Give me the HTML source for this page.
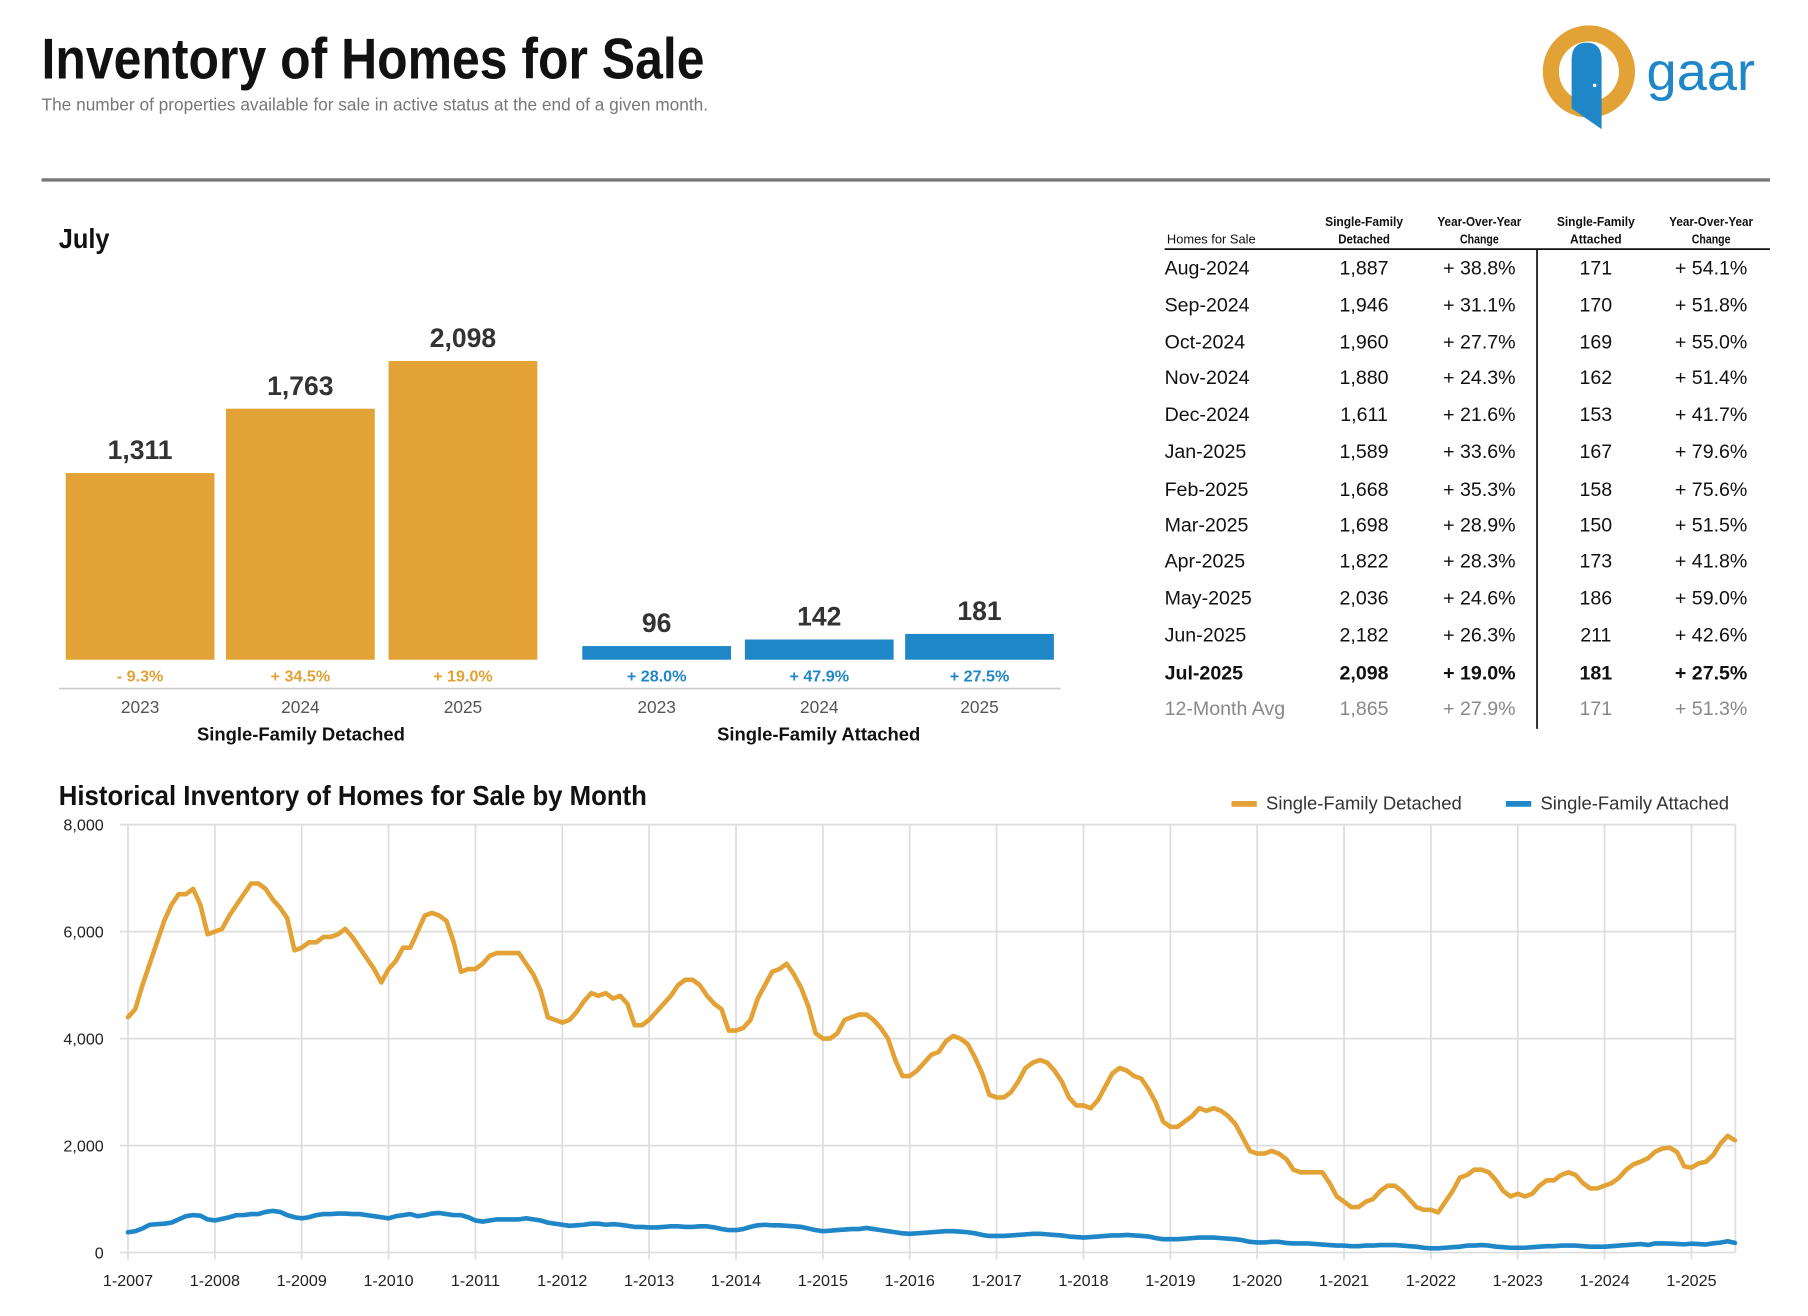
<!DOCTYPE html>
<html><head><meta charset="utf-8"><style>
html,body{margin:0;padding:0;background:#fff;}
svg{display:block;}
text{font-family:"Liberation Sans",sans-serif;}
.n{font-family:"Liberation Sans Narrow","Liberation Sans",sans-serif;}
</style></head><body>
<svg id="root" width="1808" height="1316" viewBox="0 0 1568 1141" preserveAspectRatio="none" xmlns="http://www.w3.org/2000/svg">
<text x="36" y="68" font-size="50" font-weight="bold" fill="#111" textLength="575" lengthAdjust="spacingAndGlyphs">Inventory of Homes for Sale</text>
<text x="36" y="96" font-size="15" fill="#777">The number of properties available for sale in active status at the end of a given month.</text>
<g>
<circle cx="1378" cy="62" r="33" fill="none" stroke="#E2A235" stroke-width="14"/>
<path d="M1363 52 Q1363 37 1376 37 Q1389 37 1389 52 L1389 112 L1363 94 Z" fill="#1F87C8"/>
<circle cx="1383" cy="74" r="1.5" fill="#fff"/>
<text x="1428" y="78" font-size="47" fill="#1F87C8">gaar</text>
</g>
<line x1="36" y1="156" x2="1535" y2="156" stroke="#777" stroke-width="3"/>
<text x="51" y="215" font-size="24" font-weight="bold" fill="#111" textLength="44" lengthAdjust="spacingAndGlyphs">July</text>
<g id="bars"></g>
<line x1="51" y1="597" x2="920" y2="597" stroke="#ccc" stroke-width="1.5"/>
<text x="261" y="642" font-size="16" font-weight="bold" fill="#111" text-anchor="middle">Single-Family Detached</text>
<text x="710" y="642" font-size="16" font-weight="bold" fill="#111" text-anchor="middle">Single-Family Attached</text>
<g id="table"></g>
<text x="51" y="698" font-size="24" font-weight="bold" fill="#111" textLength="510" lengthAdjust="spacingAndGlyphs">Historical Inventory of Homes for Sale by Month</text>
<g>
<line x1="1068" y1="697" x2="1090" y2="697" stroke="#E2A235" stroke-width="5"/>
<text x="1098" y="702" font-size="16" fill="#333">Single-Family Detached</text>
<line x1="1306" y1="697" x2="1328" y2="697" stroke="#1F87C8" stroke-width="5"/>
<text x="1336" y="702" font-size="16" fill="#333">Single-Family Attached</text>
</g>
<g id="line"></g>
</svg>
<script>
const barYears=['2023','2024','2025'];
const detachedJuly=[1311,1763,2098];
const attachedJuly=[96,142,181];
const detachedPct=['- 9.3%','+ 34.5%','+ 19.0%'];
const attachedPct=['+ 28.0%','+ 47.9%','+ 27.5%'];

const tableMonths=['Aug-2024','Sep-2024','Oct-2024','Nov-2024','Dec-2024','Jan-2025','Feb-2025','Mar-2025','Apr-2025','May-2025','Jun-2025','Jul-2025','12-Month Avg'];
const tableDet=['1,887','1,946','1,960','1,880','1,611','1,589','1,668','1,698','1,822','2,036','2,182','2,098','1,865'];
const tableDetChg=['+ 38.8%','+ 31.1%','+ 27.7%','+ 24.3%','+ 21.6%','+ 33.6%','+ 35.3%','+ 28.9%','+ 28.3%','+ 24.6%','+ 26.3%','+ 19.0%','+ 27.9%'];
const tableAtt=['171','170','169','162','153','167','158','150','173','186','211','181','171'];
const tableAttChg=['+ 54.1%','+ 51.8%','+ 55.0%','+ 51.4%','+ 41.7%','+ 79.6%','+ 75.6%','+ 51.5%','+ 41.8%','+ 59.0%','+ 42.6%','+ 27.5%','+ 51.3%'];

const yTicks=[0,2000,4000,6000,8000];
const yTickLabels=['0','2,000','4,000','6,000','8,000'];
const xYearLabels=['1-2007','1-2008','1-2009','1-2010','1-2011','1-2012','1-2013','1-2014','1-2015','1-2016','1-2017','1-2018','1-2019','1-2020','1-2021','1-2022','1-2023','1-2024','1-2025'];
const detachedMonthly=[
4400,4550,5000,5400,5800,6200,6500,6700,6700,6800,6500,5950,
6000,6050,6300,6500,6700,6900,6900,6800,6600,6450,6250,5650,
5700,5800,5800,5900,5900,5950,6050,5900,5700,5500,5300,5050,
5300,5450,5700,5700,6000,6300,6350,6300,6200,5800,5250,5300,
5300,5400,5550,5600,5600,5600,5600,5400,5200,4900,4400,4350,
4300,4350,4500,4700,4850,4800,4850,4750,4800,4650,4250,4250,
4350,4500,4650,4800,5000,5100,5100,5000,4800,4650,4550,4150,
4150,4200,4350,4750,5000,5250,5300,5400,5200,4950,4600,4100,
4000,4000,4100,4350,4400,4450,4450,4350,4200,4000,3600,3300,
3300,3400,3550,3700,3750,3950,4050,4000,3900,3650,3350,2950,
2900,2900,3000,3200,3450,3550,3600,3550,3400,3200,2900,2750,
2750,2700,2850,3100,3350,3450,3400,3300,3250,3050,2800,2450,
2350,2350,2450,2550,2700,2650,2700,2650,2550,2400,2150,1900,
1850,1850,1900,1850,1750,1550,1500,1500,1500,1500,1300,1050,
950,850,850,950,1000,1150,1250,1250,1150,1000,850,800,
800,750,950,1150,1400,1450,1550,1550,1500,1350,1150,1050,
1100,1050,1100,1250,1350,1350,1450,1500,1450,1300,1200,1200,
1250,1300,1400,1550,1650,1700,1763,1887,1946,1960,1880,1611,
1589,1668,1698,1822,2036,2182,2098];
const attachedMonthly=[
380,400,450,520,530,540,560,620,680,700,690,620,
600,630,660,700,700,720,720,760,780,760,700,660,
640,660,700,720,720,730,730,720,720,700,680,660,
640,680,700,720,680,700,730,740,720,700,700,660,
600,580,600,620,620,620,620,640,620,600,560,540,
520,500,510,520,540,540,520,530,520,500,480,480,
470,470,480,490,490,480,480,490,490,470,440,420,
420,440,480,510,520,510,510,500,490,480,450,420,
400,410,420,430,440,440,460,440,420,400,380,360,
350,360,370,380,390,400,400,390,380,360,330,310,
310,310,320,330,340,350,350,340,330,320,300,290,
280,290,300,310,320,320,330,320,310,300,270,250,
250,250,260,270,280,280,280,270,260,250,230,200,
190,190,200,200,180,170,170,170,160,150,140,130,
130,120,120,130,130,140,140,140,130,120,110,90,
80,80,90,100,110,130,130,140,130,110,100,90,
90,90,100,110,120,120,130,130,130,120,110,110,
110,120,130,140,150,160,142,171,170,169,162,153,
167,158,150,173,186,211,181];

const NS='http://www.w3.org/2000/svg';
function mk(tag,attrs,parent,txt){const e=document.createElementNS(NS,tag);for(const k in attrs)e.setAttribute(k,attrs[k]);if(txt!==undefined)e.textContent=txt;parent.appendChild(e);return e;}
const ORANGE='#E2A235',BLUE='#1F87C8';

const bars=document.getElementById('bars');
const baseY=572,barScale=259/2098;
function barY(v){return baseY-v*barScale;}
function drawGroup(vals,pcts,xs,color,key){
 vals.forEach((v,i)=>{
  const r=mk('rect',{x:xs[i],y:barY(v),width:129,height:v*barScale,fill:color},bars);
  
  
  const t=mk('text',{x:xs[i]+64.5,y:barY(v)-12,'font-size':23,'font-weight':'bold',fill:'#333','text-anchor':'middle'},bars,v.toLocaleString('en-US'));
  
  
  const p=mk('text',{x:xs[i]+64.5,y:591,'font-size':14,'font-weight':'bold',fill:color,'text-anchor':'middle'},bars,pcts[i]);
  
  
  const yl=mk('text',{x:xs[i]+64.5,y:618,'font-size':15,fill:'#555','text-anchor':'middle'},bars,barYears[i]);
  
  
 });
}
drawGroup(detachedJuly,detachedPct,[57,196,337],ORANGE,'detached');
drawGroup(attachedJuly,attachedPct,[505,646,785],BLUE,'attached');

const tb=document.getElementById('table');
const cols=[1183,1283,1384,1484];
const heads=[['Single-Family','Detached'],['Year-Over-Year','Change'],['Single-Family','Attached'],['Year-Over-Year','Change']];
let h=mk('text',{x:1012,y:211,'font-size':11,fill:'#111',textLength:77,lengthAdjust:'spacingAndGlyphs'},tb,'Homes for Sale');


heads.forEach((hh,i)=>{
 const t=mk('text',{x:cols[i],y:196,'font-size':11,'font-weight':'bold',fill:'#111','text-anchor':'middle',textLength:hh[0].length*5.2,lengthAdjust:'spacingAndGlyphs'},tb,hh[0]);
 
 
 mk('text',{x:cols[i],y:211,'font-size':11,'font-weight':'bold',fill:'#111','text-anchor':'middle',textLength:hh[1].length*5.6,lengthAdjust:'spacingAndGlyphs'},tb,hh[1]);
});
mk('line',{x1:1010,y1:216,x2:1535,y2:216,stroke:'#111','stroke-width':1.5},tb);
mk('line',{x1:1333,y1:216,x2:1333,y2:632,stroke:'#111','stroke-width':1.5},tb);
const rowYs=[238,270,302,333,365,397,430,461,492,524,556,589,620];
tableMonths.forEach((m,i)=>{
 const bold=i===11,avg=i===12;
 const fill=avg?'#888':'#111',fw=bold?'bold':'normal';
 const row=mk('g',{},tb);
 
 
 mk('text',{x:1010,y:rowYs[i],'font-size':17,fill:fill,'font-weight':fw},row,m);
 [tableDet[i],tableDetChg[i],tableAtt[i],tableAttChg[i]].forEach((v,j)=>{
  mk('text',{x:cols[j],y:rowYs[i],'font-size':17,fill:fill,'font-weight':fw,'text-anchor':'middle'},row,v);
 });
});

const lg=document.getElementById('line');
const X0=111,perYear=75.33,Y0=1086,Y8=715,RIGHT=1505;
function xm(i){return X0+i*perYear/12;}
function yv(v){return Y0-(v/8000)*(Y0-Y8);}
yTicks.forEach((t,i)=>{
 mk('line',{x1:104,y1:yv(t),x2:RIGHT,y2:yv(t),stroke:'#ddd','stroke-width':1.5},lg);
 const l=mk('text',{x:90,y:yv(t)+5,'font-size':14,fill:'#222','text-anchor':'end'},lg,yTickLabels[i]);
 
 
});
xYearLabels.forEach((lab,i)=>{
 const x=xm(i*12);
 mk('line',{x1:x,y1:Y8,x2:x,y2:Y0+6,stroke:'#ddd','stroke-width':1.5},lg);
 const l=mk('text',{x:x,y:1115,'font-size':14,fill:'#222','text-anchor':'middle'},lg,lab);
 
 
});
mk('line',{x1:RIGHT,y1:Y8,x2:RIGHT,y2:Y0,stroke:'#ddd','stroke-width':1.5},lg);
function series(vals,color,key){
 const d=vals.map((v,i)=>(i?'L':'M')+xm(i).toFixed(2)+' '+yv(v).toFixed(2)).join(' ');
 const p=mk('path',{d:d,fill:'none',stroke:color,'stroke-width':4,'stroke-linejoin':'round','stroke-linecap':'round'},lg);
 
 
}
series(attachedMonthly,BLUE,'attached');
series(detachedMonthly,ORANGE,'detached');
</script>
</body></html>
